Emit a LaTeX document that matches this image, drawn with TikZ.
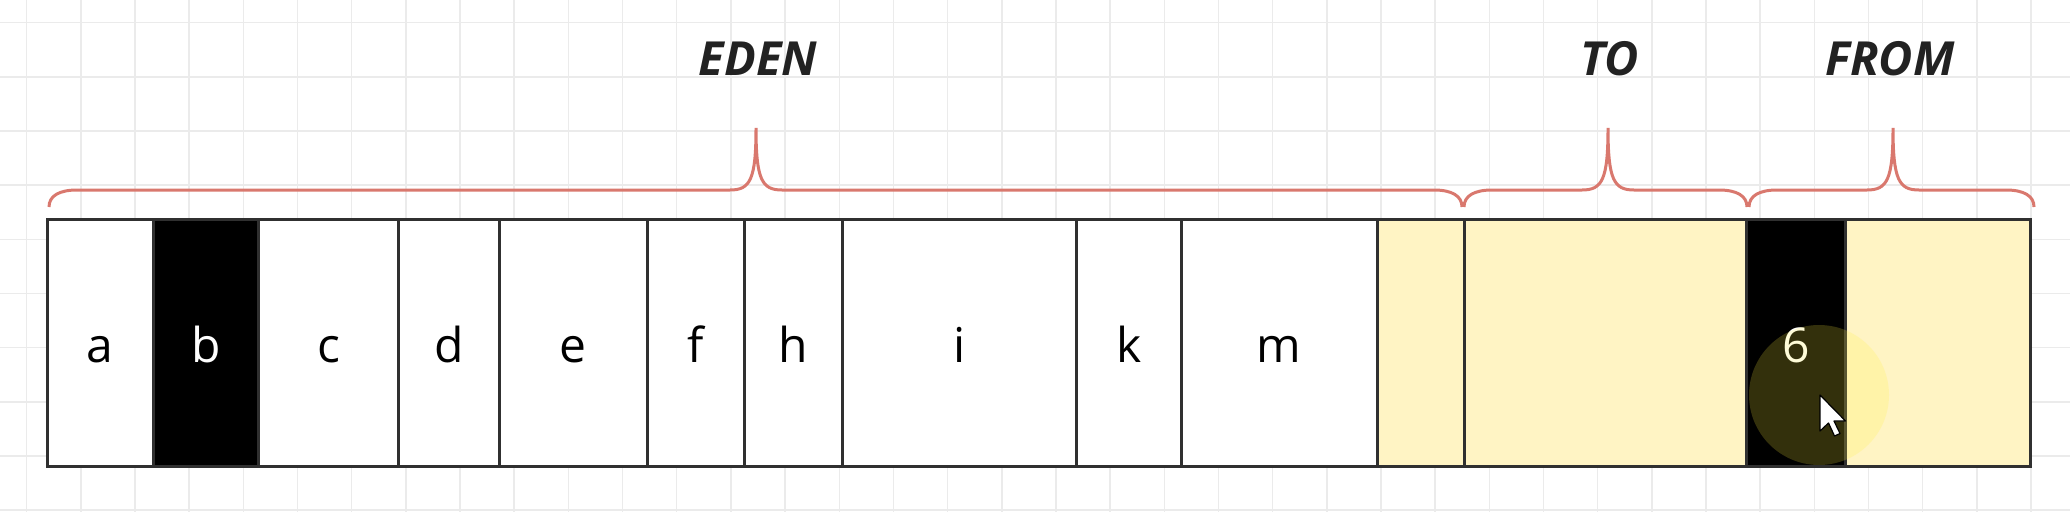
\documentclass[tikz,border=0pt]{standalone}
\usepackage{fontspec}
\newfontfamily\osans{Open Sans}
\definecolor{gridclr}{HTML}{EBEBEB}
\definecolor{lineclr}{HTML}{303030}
\definecolor{braceclr}{HTML}{D9786E}
\definecolor{survclr}{HTML}{FFF4C4}
\definecolor{titleclr}{HTML}{222222}
\definecolor{spotclr}{RGB}{255,240,60}
\newcommand{\bracepath}[3]{%
  (#1,207) .. controls (#1,196) and (#1+10,190) .. (#1+28,190)
  -- (#3-26,190) .. controls (#3-6,190) and (#3,180) .. (#3,128)
  .. controls (#3,180) and (#3+6,190) .. (#3+26,190)
  -- (#2-28,190) .. controls (#2-10,190) and (#2,196) .. (#2,207)}
\begin{document}
\begin{tikzpicture}[x=1pt,y=-1pt,
  cell/.style={draw=lineclr, line width=3pt, inner sep=0pt, minimum height=247,
    text height=42pt, text depth=3pt, font=\osans\fontsize{48}{56}\selectfont},
  wcell/.style={cell, fill=white, text=black},
  bcell/.style={cell, fill=black, text=white},
  ycell/.style={cell, fill=survclr},
  brace/.style={draw=braceclr, line width=3pt},
  title/.style={anchor=base, text=titleclr, inner sep=0pt,
    font=\osans\bfseries\itshape\fontsize{47}{54}\selectfont}]
\useasboundingbox (0,0) rectangle (2070,530);
\fill[white] (0,0) rectangle (2070,530);
% grid
\foreach \k in {0,...,37} {
  \draw[gridclr, line width=1.5pt] ({26.7+54.17*\k},0) -- ({26.7+54.17*\k},512);
}
\foreach \k in {0,...,9} {
  \draw[gridclr, line width=1.5pt] (0,{22.7+54.17*\k}) -- (2070,{22.7+54.17*\k});
}
% cells
\node[wcell, minimum width=105.5] (a) at (100.25,342.5) {a};
\node[bcell, minimum width=105.8] (b) at (205.9,342.5) {b};
\node[wcell, minimum width=139.9] (c) at (328.75,342.5) {c};
\node[wcell, minimum width=100.3] (d) at (448.85,342.5) {d};
\node[wcell, minimum width=148] (e) at (573,342.5) {e};
\node[wcell, minimum width=97.6] (f) at (695.8,342.5) {f};
\node[wcell, minimum width=97.7] (h) at (793.45,342.5) {h};
\node[wcell, minimum width=233.7] (i) at (959.15,342.5) {i};
\node[wcell, minimum width=105.6] (k) at (1128.8,342.5) {k};
\node[wcell, minimum width=195.4] (m) at (1279.3,342.5) {m};
\node[ycell, minimum width=87] (y1) at (1420.5,342.5) {};
\node[ycell, minimum width=282.6] (y2) at (1605.3,342.5) {};
\node[bcell, minimum width=99] (s6) at (1796.1,342.5) {6};
\node[ycell, minimum width=184.9] (y3) at (1938,342.5) {};
% braces
\draw[brace] \bracepath{49}{1462}{756};
\draw[brace] \bracepath{1464}{1747}{1608};
\draw[brace] \bracepath{1749}{2034}{1893};
% titles
\node[title] (eden) at (758,75) {EDEN};
\node[title] (to) at (1610,75) {TO};
\node[title] (from) at (1890,75) {FROM};
% cursor highlight
\fill[spotclr, opacity=0.2] (1819,395) circle (70);
\begin{scope}[shift={(1820,395)}]
\draw[black, line width=1.2pt, fill=white, line join=round]
  (0,0) -- (0,36) -- (8.5,28) -- (14.5,41) -- (20,38.5) -- (14,26) -- (25.5,26) -- cycle;
\end{scope}
\end{tikzpicture}
\end{document}
